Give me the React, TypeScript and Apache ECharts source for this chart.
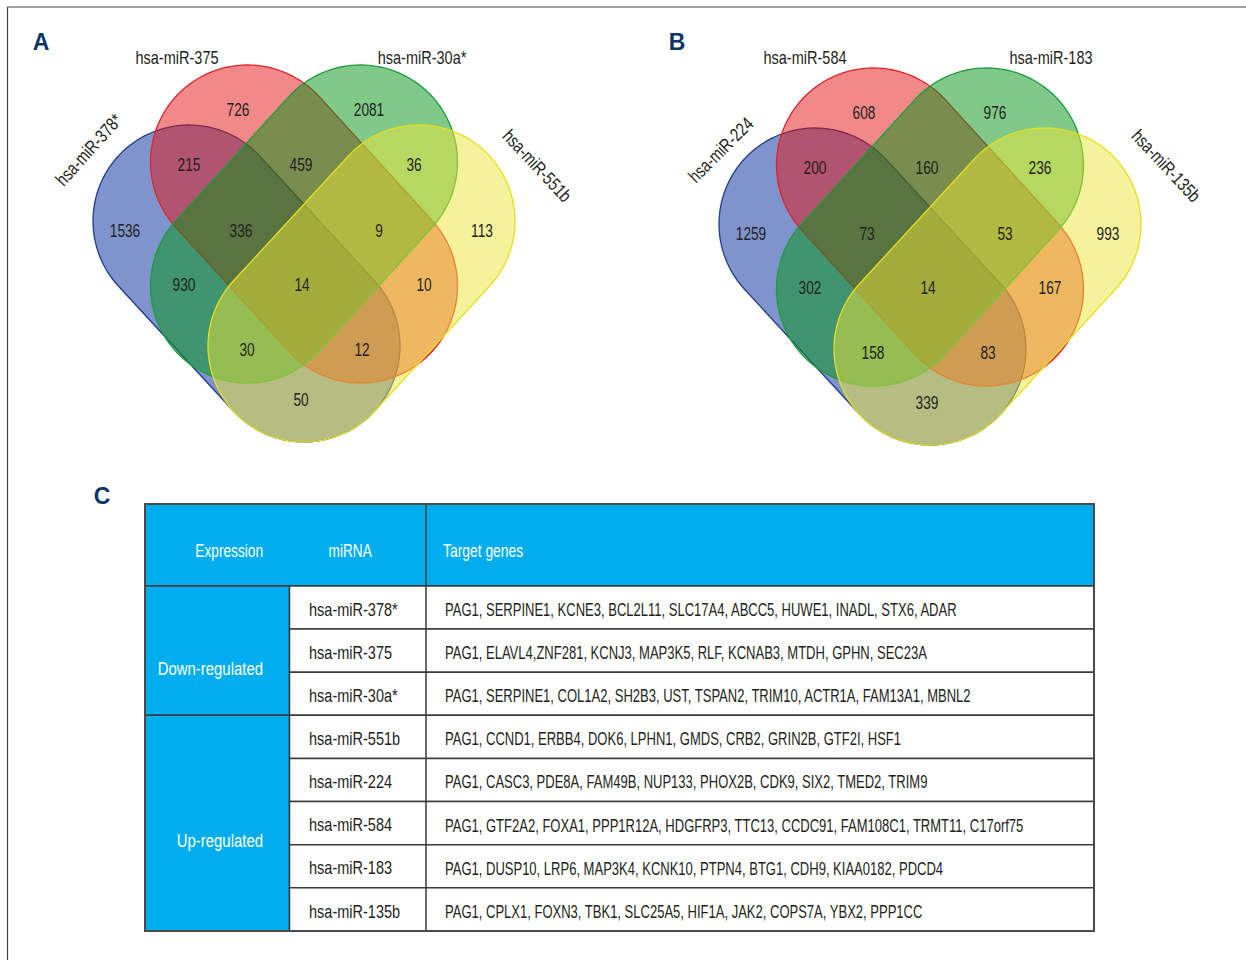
import React, { useEffect, useRef } from "react";
import * as echarts from "echarts";

// ---------- data ----------
// Venn panel A and panel B set names
const SET_NAMES_A = ["hsa-miR-378*", "hsa-miR-375", "hsa-miR-30a*", "hsa-miR-551b"];
const SET_NAMES_B = ["hsa-miR-224", "hsa-miR-584", "hsa-miR-183", "hsa-miR-135b"];

// Region order (sets 1..4 = blue, red, green, yellow):
// R, G, BR, RG, GY, B, BRG, RGY, Y, BG, BRGY, RY, BGY, BRY, BY
const COUNTS_A = [726, 2081, 215, 459, 36, 1536, 336, 9, 113, 930, 14, 10, 30, 12, 50];
const COUNTS_B = [608, 976, 200, 160, 236, 1259, 73, 53, 993, 302, 14, 167, 158, 83, 339];

// Table C
const MIRNAS = [
  "hsa-miR-378*",
  "hsa-miR-375",
  "hsa-miR-30a*",
  "hsa-miR-551b",
  "hsa-miR-224",
  "hsa-miR-584",
  "hsa-miR-183",
  "hsa-miR-135b",
];
const TARGETS = [
  "PAG1, SERPINE1, KCNE3, BCL2L11, SLC17A4, ABCC5, HUWE1, INADL, STX6, ADAR",
  "PAG1, ELAVL4,ZNF281, KCNJ3, MAP3K5, RLF, KCNAB3, MTDH, GPHN, SEC23A",
  "PAG1, SERPINE1, COL1A2, SH2B3, UST, TSPAN2, TRIM10, ACTR1A, FAM13A1, MBNL2",
  "PAG1, CCND1, ERBB4, DOK6, LPHN1, GMDS, CRB2, GRIN2B, GTF2I, HSF1",
  "PAG1, CASC3, PDE8A, FAM49B, NUP133, PHOX2B, CDK9, SIX2, TMED2, TRIM9",
  "PAG1, GTF2A2, FOXA1, PPP1R12A, HDGFRP3, TTC13, CCDC91, FAM108C1, TRMT11, C17orf75",
  "PAG1, DUSP10, LRP6, MAP3K4, KCNK10, PTPN4, BTG1, CDH9, KIAA0182, PDCD4",
  "PAG1, CPLX1, FOXN3, TBK1, SLC25A5, HIF1A, JAK2, COPS7A, YBX2, PPP1CC",
];
const GROUP_LABELS = ["Down-regulated", "Up-regulated"];
const GROUP_FROM = [0, 3];
const GROUP_TO = [3, 8];
const HEADERS = ["Expression", "miRNA", "Target genes"];

// ---------- layout ----------
// A regular sans squeezed horizontally gives the condensed look of the labels
const FONT = '"Liberation Sans", Arial, sans-serif';
const TEXT_COLOR = "#231f20";
const LINE = "#3a3a3a";
const CYAN = "#00aeef";
const NAVY = "#0c3567";

// capsule shapes in panel units: [x1, y1, x2, y2, radius]
const SHAPES = [
  [-115, -3, 0, 122, 96],
  [-56.5, -62, 56.5, 62, 97],
  [56.5, -62, -56.5, 62, 97],
  [115, -3, 0, 122, 96],
];
const FILLS = [
  "rgba(0,42,154,0.5)",
  "rgba(228,20,18,0.5)",
  "rgba(2,148,20,0.5)",
  "rgba(236,230,56,0.5)",
];
const STROKES = ["#1f3b95", "#e3232b", "#1c9d3d", "#e4df1f"];

// label anchor of every region, panel units
const REGION_POS = [
  [-66, -115], [65, -115], [-115, -60], [-3, -60], [110, -60],
  [-179, 6], [-63, 6], [75, 6], [178, 6],
  [-120, 60], [-2, 60], [120, 60],
  [-57, 125], [58, 125], [-3, 175],
];

// table column edges (px inside table) and header height in row units
const COLS = [0, 144.5, 281, 949];
const HEADER_ROWS = 1.9;

function capsulePoints(p1: number[], p2: number[], r: number, n = 60) {
  const a = Math.atan2(p2[1] - p1[1], p2[0] - p1[0]);
  const pts: number[][] = [];
  for (let k = 0; k <= n; k++) {
    const t = a - Math.PI / 2 + (Math.PI * k) / n;
    pts.push([p2[0] + r * Math.cos(t), p2[1] + r * Math.sin(t)]);
  }
  for (let k = 0; k <= n; k++) {
    const t = a + Math.PI / 2 + (Math.PI * k) / n;
    pts.push([p1[0] + r * Math.cos(t), p1[1] + r * Math.sin(t)]);
  }
  return pts;
}

// condensed text element: font size, horizontal squeeze, alignment
function textEl(
  text: string,
  x: number,
  y: number,
  size: number,
  squeeze: number,
  fill: string,
  align = "left",
  rotDeg = 0
) {
  return {
    type: "text",
    x,
    y,
    scaleX: squeeze,
    rotation: (rotDeg * Math.PI) / 180,
    style: {
      text,
      font: `${size}px ${FONT}`,
      fill,
      align,
      verticalAlign: "middle",
      textAlign: align,
      textVerticalAlign: "middle",
    },
  };
}

function vennSeries(gridIdx: number, counts: number[]) {
  return [
    {
      type: "custom",
      xAxisIndex: gridIdx,
      yAxisIndex: gridIdx,
      clip: false,
      silent: true,
      data: SHAPES.map((s, i) => [s[0], s[1], s[2], s[3], s[4], i]),
      renderItem: (params: any, api: any) => {
        const p1 = api.coord([api.value(0), api.value(1)]);
        const p2 = api.coord([api.value(2), api.value(3)]);
        const r = api.coord([api.value(0) + api.value(4), api.value(1)])[0] - p1[0];
        const idx = api.value(5);
        return {
          type: "polygon",
          shape: { points: capsulePoints(p1, p2, r) },
          style: { fill: FILLS[idx], stroke: STROKES[idx], lineWidth: 1.3 },
        };
      },
    },
    {
      type: "custom",
      xAxisIndex: gridIdx,
      yAxisIndex: gridIdx,
      clip: false,
      silent: true,
      z: 5,
      data: REGION_POS.map((p, i) => [p[0], p[1], counts[i]]),
      renderItem: (params: any, api: any) => {
        const c = api.coord([api.value(0), api.value(1)]);
        return textEl(String(api.value(2)), c[0], c[1], 18.5, 0.74, TEXT_COLOR, "center");
      },
    },
  ];
}

function setLabel(text: string, x: number, y: number, rotDeg = 0) {
  return { ...textEl(text, x, y, 18.5, 0.784, TEXT_COLOR, "center", rotDeg), z: 10 };
}

function panelLetter(text: string, x: number, y: number) {
  return {
    type: "text",
    x,
    y,
    z: 10,
    style: {
      text,
      font: `bold 23px "Liberation Sans", Arial, sans-serif`,
      fill: NAVY,
      align: "center",
      verticalAlign: "middle",
      textAlign: "center",
      textVerticalAlign: "middle",
    },
  };
}

const option: any = {
  animation: false,
  backgroundColor: "#ffffff",
  grid: [
    { left: 14, top: 24, width: 580, height: 430 },
    { left: 640, top: 27, width: 580, height: 430 },
    { left: 145, top: 504, width: 949, height: 427 },
  ],
  xAxis: [
    { type: "value", gridIndex: 0, min: -290, max: 290, show: false },
    { type: "value", gridIndex: 1, min: -290, max: 290, show: false },
    { type: "value", gridIndex: 2, min: COLS[0], max: COLS[3], show: false },
  ],
  yAxis: [
    { type: "value", gridIndex: 0, min: -200, max: 230, inverse: true, show: false },
    { type: "value", gridIndex: 1, min: -200, max: 230, inverse: true, show: false },
    { type: "value", gridIndex: 2, min: -HEADER_ROWS, max: MIRNAS.length, inverse: true, show: false },
  ],
  series: [
    ...vennSeries(0, COUNTS_A),
    ...vennSeries(1, COUNTS_B),
    // table header
    {
      type: "custom",
      xAxisIndex: 2,
      yAxisIndex: 2,
      clip: false,
      silent: true,
      data: [[0, -HEADER_ROWS]],
      renderItem: (params: any, api: any) => {
        const tl = api.coord([COLS[0], -HEADER_ROWS]);
        const br = api.coord([COLS[3], 0]);
        const xm = api.coord([COLS[2], 0])[0];
        const cy = (tl[1] + br[1]) / 2 + 6;
        return {
          type: "group",
          children: [
            {
              type: "rect",
              shape: { x: tl[0], y: tl[1], width: br[0] - tl[0], height: br[1] - tl[1] },
              style: { fill: CYAN, stroke: LINE, lineWidth: 1.5 },
            },
            { type: "line", shape: { x1: xm, y1: tl[1], x2: xm, y2: br[1] }, style: { stroke: LINE, lineWidth: 1.5 } },
            textEl(HEADERS[0], tl[0] + 118, cy, 19, 0.72, "#ffffff", "right"),
            textEl(HEADERS[1], tl[0] + 183.5, cy, 19, 0.72, "#ffffff", "left"),
            textEl(HEADERS[2], xm + 17, cy, 19, 0.73, "#ffffff", "left"),
          ],
        };
      },
    },
    // expression groups
    {
      type: "custom",
      xAxisIndex: 2,
      yAxisIndex: 2,
      clip: false,
      silent: true,
      data: GROUP_LABELS.map((_, i) => [i, GROUP_FROM[i], GROUP_TO[i]]),
      renderItem: (params: any, api: any) => {
        const i = api.value(0);
        const tl = api.coord([COLS[0], api.value(1)]);
        const br = api.coord([COLS[1], api.value(2)]);
        const cy = (tl[1] + br[1]) / 2 + 18;
        return {
          type: "group",
          children: [
            {
              type: "rect",
              shape: { x: tl[0], y: tl[1], width: br[0] - tl[0], height: br[1] - tl[1] },
              style: { fill: CYAN, stroke: LINE, lineWidth: 1.5 },
            },
            textEl(GROUP_LABELS[i], tl[0] + 118, cy, 19, 0.785, "#ffffff", "right"),
          ],
        };
      },
    },
    // miRNA rows
    {
      type: "custom",
      xAxisIndex: 2,
      yAxisIndex: 2,
      clip: false,
      silent: true,
      data: MIRNAS.map((_, i) => [0, i]),
      renderItem: (params: any, api: any) => {
        const i = api.value(1);
        const tl = api.coord([COLS[1], i]);
        const br = api.coord([COLS[3], i + 1]);
        const xm = api.coord([COLS[2], i])[0];
        const cy = (tl[1] + br[1]) / 2 + 2;
        return {
          type: "group",
          children: [
            {
              type: "rect",
              shape: { x: tl[0], y: tl[1], width: br[0] - tl[0], height: br[1] - tl[1] },
              style: { fill: "#ffffff", stroke: LINE, lineWidth: 1.5 },
            },
            { type: "line", shape: { x1: xm, y1: tl[1], x2: xm, y2: br[1] }, style: { stroke: LINE, lineWidth: 1.5 } },
            textEl(MIRNAS[i], tl[0] + 19.5, cy, 18.5, 0.784, TEXT_COLOR, "left"),
            textEl(TARGETS[i], xm + 19, cy, 18.5, 0.704, TEXT_COLOR, "left"),
          ],
        };
      },
    },
    // outer frame of the table
    {
      type: "custom",
      xAxisIndex: 2,
      yAxisIndex: 2,
      clip: false,
      silent: true,
      z: 4,
      data: [[0, 0]],
      renderItem: (params: any, api: any) => {
        const tl = api.coord([COLS[0], -HEADER_ROWS]);
        const br = api.coord([COLS[3], MIRNAS.length]);
        return {
          type: "rect",
          shape: { x: tl[0], y: tl[1], width: br[0] - tl[0], height: br[1] - tl[1] },
          style: { fill: "none", stroke: "#4a4a4a", lineWidth: 2 },
        };
      },
    },
  ],
  graphic: [
    // page frame
    { type: "line", shape: { x1: 7.5, y1: 7, x2: 1246, y2: 7 }, style: { stroke: "#444", lineWidth: 1.2 } },
    { type: "line", shape: { x1: 7.5, y1: 7, x2: 7.5, y2: 960 }, style: { stroke: "#444", lineWidth: 1.2 } },
    panelLetter("A", 41, 42),
    panelLetter("B", 677, 42),
    panelLetter("C", 102, 496),
    // set names, panel A
    setLabel(SET_NAMES_A[0], 89, 150, 48),
    setLabel(SET_NAMES_A[1], 177, 58),
    setLabel(SET_NAMES_A[2], 422, 58),
    setLabel(SET_NAMES_A[3], 537, 166, -47),
    // set names, panel B
    setLabel(SET_NAMES_B[0], 721, 150, 45),
    setLabel(SET_NAMES_B[1], 805, 58),
    setLabel(SET_NAMES_B[2], 1051, 58),
    setLabel(SET_NAMES_B[3], 1166, 166, -47),
  ],
};

export default function App() {
  const ref = useRef<HTMLDivElement>(null);
  useEffect(() => {
    const chart = echarts.init(ref.current!, null, { renderer: "svg" });
    chart.setOption(option);
    return () => chart.dispose();
  }, []);
  return (
    <div
      ref={ref}
      style={{ position: "fixed", left: 0, top: 0, width: 1246, height: 960, background: "#ffffff" }}
    />
  );
}
